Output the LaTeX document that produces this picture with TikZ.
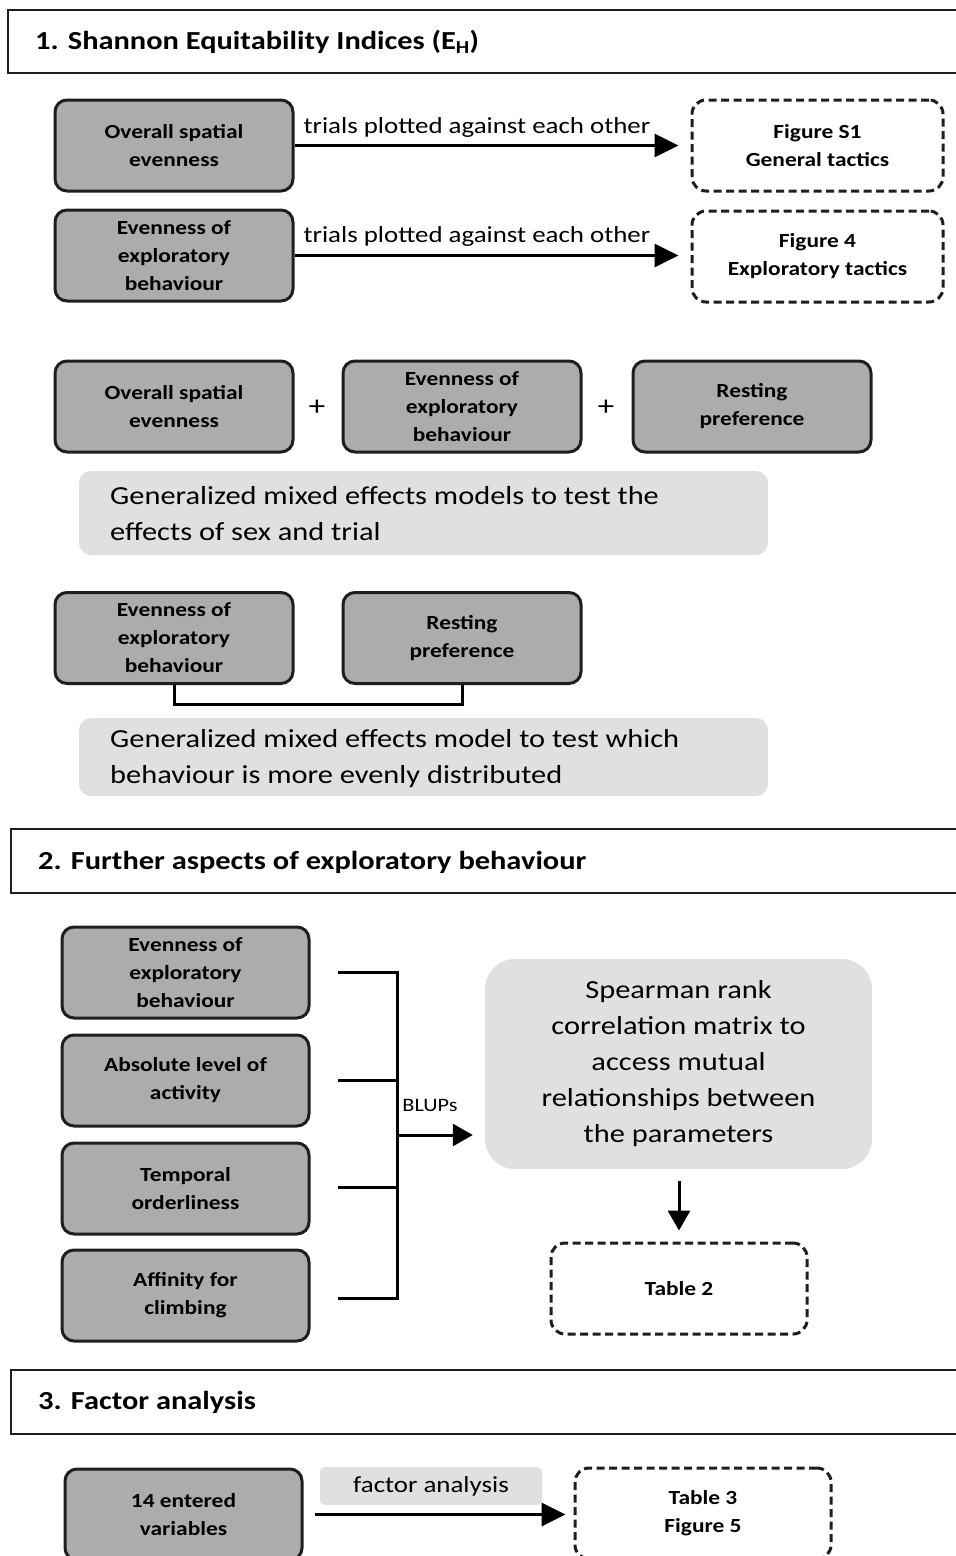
\documentclass[tikz,border=0pt]{standalone}
\usepackage{fontspec}
\setmainfont{Carlito}[FakeStretch=1.17]
\usetikzlibrary{arrows.meta,calc}
\definecolor{boxgray}{RGB}{172,172,172}
\definecolor{lightgray}{RGB}{224,224,224}
\definecolor{edge}{RGB}{30,30,30}
\tikzset{
  gbox/.style={draw=edge, line width=3pt, fill=boxgray, rounded corners=12pt,
    minimum width=238pt, minimum height=91pt, align=center, inner sep=0pt,
    font=\bfseries\fontsize{20}{28}\selectfont},
  dbox/.style={draw=edge, line width=3pt, dash pattern=on 8pt off 4.5pt, fill=white, rounded corners=14pt,
    minimum width=251pt, minimum height=91pt, align=center, inner sep=0pt,
    font=\bfseries\fontsize{20}{28}\selectfont},
  lbox/.style={fill=lightgray, rounded corners=12pt, inner sep=0pt,
    font=\fontsize{26}{36}\selectfont},
  hdrbox/.style={draw=edge, line width=1.5pt},
  hdrtext/.style={anchor=west, inner sep=0pt, font=\bfseries\fontsize{26}{30}\selectfont},
  conn/.style={draw=black, line width=3.5pt},
  arr/.style={conn, -{Triangle[length=24pt,width=23pt]}},
  arrlbl/.style={inner sep=0pt, font=\fontsize{23}{28}\selectfont},
  plus/.style={inner sep=0pt, font=\fontsize{28}{28}\selectfont}
}
\begin{document}
\begin{tikzpicture}[x=1pt,y=-1pt]
\useasboundingbox (0,0) rectangle (956,1556);
\clip (0,0) rectangle (956,1556);

% Section 1 header
\draw[hdrbox] (8,10) rectangle (980,73);
\node[hdrtext] (h1) at (35,42) {1. Shannon Equitability Indices (E\textsubscript{H})};

% Row 1
\node[gbox] (a1) at (174,145.5) {Overall spatial\\evenness};
\node[dbox] (f1) at (817.5,145.5) {Figure S1\\General tactics};
\draw[arr, shorten >=12pt] (a1.east) -- (f1.west);
\node[arrlbl] (l1) at (477,127) {trials plotted against each other};

% Row 2
\node[gbox] (a2) at (174,255.5) {Evenness of\\exploratory\\behaviour};
\node[dbox] (f2) at (817.5,256.5) {Figure 4\\Exploratory tactics};
\draw[arr, shorten >=12pt] (a2.east) -- (f2.west |- a2.east);
\node[arrlbl] (l2) at (477,236) {trials plotted against each other};

% Row 3
\node[gbox] (b1) at (174,406.5) {Overall spatial\\evenness};
\node[gbox] (b2) at (462,406.5) {Evenness of\\exploratory\\behaviour};
\node[gbox] (b3) at (752,406.5) {Resting\\preference};
\node[plus] (p1) at (317,408) {+};
\node[plus] (p2) at (606,408) {+};
\node[lbox, minimum width=689pt, minimum height=84pt] (g1) at (423.5,513) {};
\node[anchor=west, inner sep=0pt, align=left, font=\fontsize{26}{36}\selectfont] (g1t) at (110,514)
  {Generalized mixed effects models to test the\\effects of sex and trial};

% Row 4
\node[gbox] (c1) at (174,638) {Evenness of\\exploratory\\behaviour};
\node[gbox] (c2) at (462,638) {Resting\\preference};
\coordinate (cj1) at (174,704);
\coordinate (cj2) at (462,704);
\draw[conn, line width=3pt] (c1.south) -- (cj1) -- (cj2) -- (c2.south);
\node[lbox, minimum width=689pt, minimum height=78pt] (g2) at (423.5,757) {};
\node[anchor=west, inner sep=0pt, align=left, font=\fontsize{26}{36}\selectfont] (g2t) at (110,759)
  {Generalized mixed effects model to test which\\behaviour is more evenly distributed};

% Section 2 header
\draw[hdrbox] (11,829) rectangle (980,893);
\node[hdrtext] (h2) at (38,862) {2. Further aspects of exploratory behaviour};

\node[gbox, minimum width=247pt] (d1) at (185.5,972.5) {Evenness of\\exploratory\\behaviour};
\node[gbox, minimum width=247pt] (d2) at (185.5,1080.5) {Absolute level of\\activity};
\node[gbox, minimum width=247pt] (d3) at (185.5,1188.5) {Temporal\\orderliness};
\node[gbox, minimum width=247pt] (d4) at (185.5,1295.5) {Affinity for\\climbing};

\coordinate (s1) at (338,972);
\coordinate (s2) at (338,1080);
\coordinate (s3) at (338,1187);
\coordinate (s4) at (338,1298);
\coordinate (v1) at (397,972);
\coordinate (v2) at (397,1080);
\coordinate (v3) at (397,1187);
\coordinate (v4) at (397,1298);
\coordinate (vm) at (397,1135);
\draw[conn, line width=3pt] (s1) -- (v1) -- (v4) -- (s4);
\draw[conn, line width=3pt] (s2) -- (v2);
\draw[conn, line width=3pt] (s3) -- (v3);

\node[lbox, rounded corners=30pt, minimum width=387pt, minimum height=210pt, align=center] (sp) at (678.5,1064)
  {Spearman rank\\correlation matrix to\\access mutual\\relationships between\\the parameters};
\draw[arr, line width=3pt, -{Triangle[length=20pt,width=22pt]}, shorten >=12pt] (vm) -- (sp.west |- vm);
\node[inner sep=0pt, font=\fontsize{19}{22}\selectfont] (blup) at (430,1105) {BLUPs};

\node[dbox, minimum width=256pt] (t2) at (679,1288.5) {Table 2};
\draw[arr, line width=3pt, -{Triangle[length=20pt,width=22pt]}, shorten <=12pt, shorten >=11pt] (sp.south -| t2.north) -- (t2.north);

% Section 3 header
\draw[hdrbox] (11,1370) rectangle (980,1434);
\node[hdrtext] (h3) at (38,1402) {3. Factor analysis};

\node[gbox, minimum width=237pt] (e1) at (183.5,1514.5) {14 entered\\variables};
\node[dbox, minimum width=256pt] (t3) at (703,1513.5) {Table 3\\Figure 5};
\node[lbox, rounded corners=5pt, minimum width=222pt, minimum height=38pt, font=\fontsize{23}{28}\selectfont] (fa) at (431,1486) {factor analysis};
\draw[arr, shorten <=11pt, shorten >=8pt] (e1.east) -- (t3.west |- e1.east);
\end{tikzpicture}
\end{document}
